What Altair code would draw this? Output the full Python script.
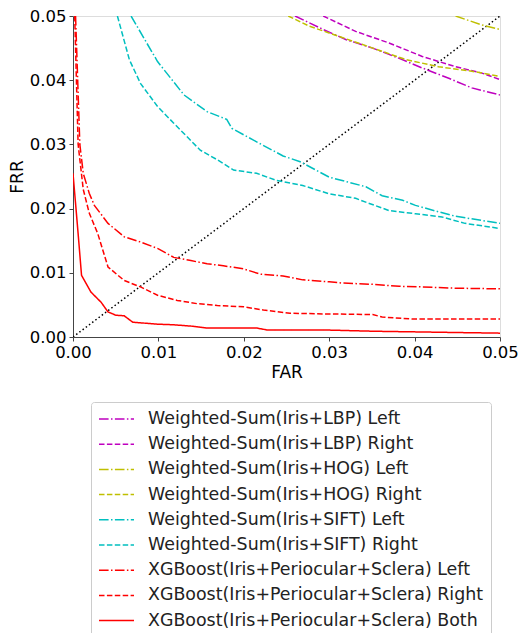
import altair as alt
import pandas as pd

series_names = [
    "Weighted-Sum(Iris+LBP) Left",
    "Weighted-Sum(Iris+LBP) Right",
    "Weighted-Sum(Iris+HOG) Left",
    "Weighted-Sum(Iris+HOG) Right",
    "Weighted-Sum(Iris+SIFT) Left",
    "Weighted-Sum(Iris+SIFT) Right",
    "XGBoost(Iris+Periocular+Sclera) Left",
    "XGBoost(Iris+Periocular+Sclera) Right",
    "XGBoost(Iris+Periocular+Sclera) Both",
]
series_colors = ["#bf00bf", "#bf00bf", "#bfbf00", "#bfbf00", "#00bfbf", "#00bfbf",
                 "#ff0000", "#ff0000", "#ff0000"]
dashdot = [9.6, 2.4, 1.5, 2.4]
dashed = [5.5, 2.4]
solid = [1, 0]
series_dashes = [dashdot, dashed, dashdot, dashed, dashdot, dashed, dashdot, dashed, solid]

lbp_left_far = [0.0260, 0.0293, 0.0320, 0.0351, 0.0382, 0.0409, 0.0440, 0.0467, 0.0500]
lbp_left_frr = [0.0500, 0.0479, 0.0463, 0.0450, 0.0434, 0.0419, 0.0403, 0.0388, 0.0377]

lbp_right_far = [0.0293, 0.0331, 0.0370, 0.0409, 0.0448, 0.0479, 0.0500]
lbp_right_frr = [0.0500, 0.0476, 0.0458, 0.0437, 0.0421, 0.0411, 0.0401]

hog_left_far = [0.0448, 0.0479, 0.0500]
hog_left_frr = [0.0500, 0.0486, 0.0479]

hog_right_far = [0.0252, 0.0277, 0.0312, 0.0351, 0.0390, 0.0428, 0.0467, 0.0500]
hog_right_frr = [0.0500, 0.0484, 0.0468, 0.0450, 0.0432, 0.0421, 0.0414, 0.0406]

sift_left_far = [0.0068, 0.0099, 0.0130, 0.0157, 0.0180, 0.0186, 0.0215, 0.0246, 0.0266,
                 0.0300, 0.0343, 0.0362, 0.0386, 0.0401, 0.0428, 0.0448, 0.0500]
sift_left_frr = [0.0500, 0.0429, 0.0377, 0.0351, 0.0339, 0.0325, 0.0304, 0.0282, 0.0273,
                 0.0249, 0.0234, 0.0220, 0.0213, 0.0205, 0.0195, 0.0188, 0.0177]

sift_right_far = [0.0052, 0.0066, 0.0079, 0.0099, 0.0118, 0.0149, 0.0169, 0.0188, 0.0215,
                  0.0238, 0.0269, 0.0300, 0.0331, 0.0347, 0.0370, 0.0401, 0.0432, 0.0459, 0.0500]
sift_right_frr = [0.0500, 0.0432, 0.0395, 0.0359, 0.0333, 0.0291, 0.0276, 0.0260, 0.0255,
                  0.0244, 0.0236, 0.0223, 0.0216, 0.0208, 0.0197, 0.0192, 0.0187, 0.0177, 0.0169]

xgb_left_far = [0.0003, 0.0008, 0.0012, 0.0019, 0.0025, 0.0041, 0.0060, 0.0079, 0.0099, 0.0118,
                0.0138, 0.0157, 0.0176, 0.0200, 0.0219, 0.0246, 0.0269, 0.0300, 0.0316,
                0.0351, 0.0382, 0.0409, 0.0448, 0.0500]
xgb_left_frr = [0.0500, 0.0300, 0.0255, 0.0224, 0.0205, 0.0177, 0.0156, 0.0148, 0.0138, 0.0124,
                0.0119, 0.0114, 0.0111, 0.0106, 0.0098, 0.0095, 0.0089, 0.0086, 0.0084,
                0.0082, 0.0079, 0.0078, 0.0076, 0.0075]

xgb_right_far = [0.0002, 0.0006, 0.0012, 0.0019, 0.0029, 0.0041, 0.0060, 0.0079, 0.0099, 0.0122,
                 0.0145, 0.0169, 0.0200, 0.0223, 0.0254, 0.0293, 0.0351, 0.0362, 0.0397, 0.0500]
xgb_right_frr = [0.0500, 0.0300, 0.0230, 0.0193, 0.0161, 0.0109, 0.0088, 0.0078, 0.0065, 0.0057,
                 0.0052, 0.0049, 0.0047, 0.0042, 0.0037, 0.0036, 0.0035, 0.0031, 0.0028, 0.0028]

xgb_both_far = [0.0000, 0.0006, 0.0010, 0.0021, 0.0033, 0.0041, 0.0050, 0.0060, 0.0070, 0.0099,
                0.0118, 0.0138, 0.0157, 0.0215, 0.0227, 0.0293, 0.0351, 0.0448, 0.0500]
xgb_both_frr = [0.0255, 0.0161, 0.0096, 0.0070, 0.0054, 0.0039, 0.0034, 0.0033, 0.0023, 0.0020,
                0.0019, 0.0017, 0.0014, 0.0014, 0.0011, 0.0011, 0.0009, 0.0007, 0.0006]

curves = [
    (lbp_left_far, lbp_left_frr), (lbp_right_far, lbp_right_frr),
    (hog_left_far, hog_left_frr), (hog_right_far, hog_right_frr),
    (sift_left_far, sift_left_frr), (sift_right_far, sift_right_frr),
    (xgb_left_far, xgb_left_frr), (xgb_right_far, xgb_right_frr),
    (xgb_both_far, xgb_both_frr),
]

rows = []
for name, (fars, frrs) in zip(series_names, curves):
    for i, (a, b) in enumerate(zip(fars, frrs)):
        rows.append({"series": name, "FAR": a, "FRR": b, "idx": i})
df = pd.DataFrame(rows)

diag_x = [0.0, 0.05]
diag = pd.DataFrame({"FAR": diag_x, "FRR": diag_x})

FONT = "DejaVu Sans"
tick_vals = [0, 0.01, 0.02, 0.03, 0.04, 0.05]

xscale = alt.Scale(domain=[0, 0.05], nice=False, zero=False)
yscale = alt.Scale(domain=[0, 0.05], nice=False, zero=False)

xaxis = alt.Axis(values=tick_vals, format=".2f", title="FAR",
                 grid=False, tickSize=4, labelFontSize=16.5, titleFontSize=17,
                 titleFontWeight="normal", labelColor="#000", titleColor="#000",
                 domainColor="#444", tickColor="#444", labelPadding=3, titlePadding=4,
                 labelFlush=False, labelOverlap=False,
                 labelFont=FONT, titleFont=FONT)
yaxis = alt.Axis(values=tick_vals, format=".2f", title="FRR",
                 grid=False, tickSize=4, labelFontSize=16.5, titleFontSize=17,
                 titleFontWeight="normal", labelColor="#000", titleColor="#000",
                 domainColor="#444", tickColor="#444", labelPadding=3, titlePadding=3,
                 labelFlush=False, labelOverlap=False,
                 labelFont=FONT, titleFont=FONT)

lines = alt.Chart(df).mark_line(strokeWidth=1.5, clip=True).encode(
    x=alt.X("FAR:Q", scale=xscale, axis=xaxis),
    y=alt.Y("FRR:Q", scale=yscale, axis=yaxis),
    color=alt.Color("series:N", scale=alt.Scale(domain=series_names, range=series_colors),
                    sort=series_names,
                    legend=alt.Legend(
                        title=None, orient="none", legendX=18, legendY=386,
                        direction="vertical", symbolType="stroke", symbolSize=1225,
                        symbolStrokeWidth=1.5, clipHeight=20, rowPadding=5.2,
                        labelFontSize=17.4, labelFont=FONT, labelColor="#222",
                        labelOffset=13, labelLimit=500,
                        strokeColor="#cccccc", fillColor="white", padding=7,
                        cornerRadius=3)),
    strokeDash=alt.StrokeDash("series:N",
                              scale=alt.Scale(domain=series_names, range=series_dashes),
                              sort=series_names, legend=None),
    detail="series:N",
    order="idx:Q",
)

diag_line = alt.Chart(diag).mark_line(color="black", strokeWidth=1.5,
                                      strokeDash=[1.5, 2.5], clip=True).encode(
    x=alt.X("FAR:Q", scale=xscale),
    y=alt.Y("FRR:Q", scale=yscale),
)

chart = alt.layer(diag_line, lines).properties(
    width=427, height=321,
    autosize=alt.AutoSizeParams(type="none"),
    padding={"left": 65, "top": 8, "right": 18, "bottom": 300},
).configure_view(stroke="#444", strokeWidth=1).configure(background="white")

chart.save("out.html", embed_options={"renderer": "svg", "actions": False})
